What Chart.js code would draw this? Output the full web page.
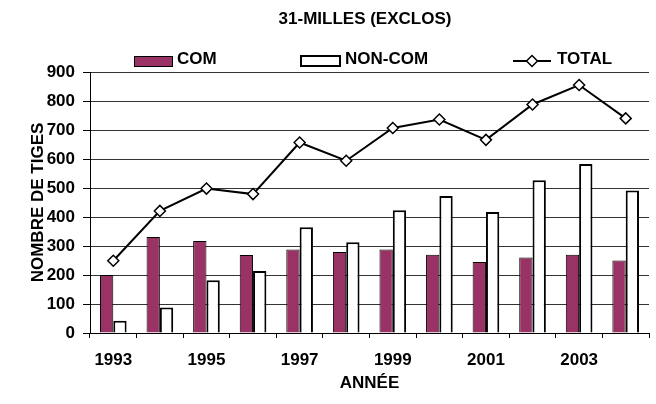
<!DOCTYPE html>
<html>
<head>
<meta charset="utf-8">
<script src="https://cdn.jsdelivr.net/npm/chart.js@4/dist/chart.umd.min.js"></script>
<style>
  html, body { margin: 0; padding: 0; background: #fff; }
  #wrap { width: 656px; height: 404px; position: relative; }
</style>
</head>
<body>
<div id="wrap"><canvas id="c" width="656" height="404"></canvas></div>
<script>
// ---- data ----
const years = ['1993','1994','1995','1996','1997','1998','1999','2000','2001','2002','2003','2004'];
const comValues = [200, 331, 317, 269, 288, 279, 288, 270, 245, 260, 270, 250];
const nonComValues = [42, 88, 182, 214, 365, 313, 423, 472, 417, 527, 583, 491];
const totalValues = [249, 421, 498, 479, 657, 594, 707, 736, 666, 788, 855, 740];
const yTicks = [0, 100, 200, 300, 400, 500, 600, 700, 800, 900];
const titleText = '31-MILLES (EXCLOS)';
const xTitle = 'ANNÉE';
const yTitle = 'NOMBRE DE TIGES';
const seriesNames = ['COM', 'NON-COM', 'TOTAL'];

const FONT = "'Liberation Sans', Arial, sans-serif";

const customDecor = {
  id: 'customDecor',
  afterDraw(chart) {
    const ctx = chart.ctx;
    const byLabel = (l) => chart.data.datasets.find(d => d.label === l);
    const com = byLabel(seriesNames[0]);
    const non = byLabel(seriesNames[1]);
    const tot = byLabel(seriesNames[2]);
    ctx.save();
    ctx.fillStyle = '#000';
    ctx.font = 'bold 17px ' + FONT;
    ctx.textBaseline = 'middle';
    // title
    ctx.textAlign = 'center';
    ctx.fillText(titleText, 365, 19);
    // legend
    ctx.textAlign = 'left';
    const ty = 59;
    // COM
    ctx.fillStyle = com.backgroundColor;
    ctx.fillRect(134.5, 56.5, 38, 10);
    ctx.strokeStyle = com.borderColor; ctx.lineWidth = 1;
    ctx.strokeRect(134.5, 56.5, 38, 10);
    ctx.fillStyle = '#000';
    ctx.fillText(com.label, 177, ty);
    // NON-COM
    ctx.fillStyle = non.backgroundColor;
    ctx.fillRect(301, 56, 39, 10);
    ctx.strokeStyle = non.borderColor; ctx.lineWidth = 2;
    ctx.strokeRect(301, 56, 39, 10);
    ctx.fillStyle = '#000';
    ctx.fillText(non.label, 345, ty);
    // TOTAL
    ctx.strokeStyle = tot.borderColor;
    ctx.lineWidth = 2;
    ctx.beginPath(); ctx.moveTo(513, 61); ctx.lineTo(551, 61); ctx.stroke();
    ctx.beginPath();
    ctx.moveTo(532, 55.5); ctx.lineTo(537.5, 61); ctx.lineTo(532, 66.5); ctx.lineTo(526.5, 61); ctx.closePath();
    ctx.fillStyle = '#fff'; ctx.fill();
    ctx.lineWidth = 1.5; ctx.stroke();
    ctx.fillStyle = '#000';
    ctx.fillText(tot.label, 557, ty);
    ctx.restore();
  }
};

new Chart(document.getElementById('c'), {
  type: 'bar',
  data: {
    labels: years,
    datasets: [
      {
        type: 'line', label: seriesNames[2], data: totalValues, order: 0,
        borderColor: '#000', borderWidth: 2, backgroundColor: '#fff',
        pointStyle: 'rectRot', pointRadius: 5.5, pointBorderWidth: 1.5,
        pointBackgroundColor: '#fff', pointBorderColor: '#000', tension: 0
      },
      {
        label: seriesNames[0], data: comValues, order: 1,
        backgroundColor: '#993366', borderColor: '#000', borderWidth: 1,
        barPercentage: 1, categoryPercentage: 0.572
      },
      {
        label: seriesNames[1], data: nonComValues, order: 1,
        backgroundColor: '#fff', borderColor: '#000', borderWidth: 2,
        barPercentage: 1, categoryPercentage: 0.572
      }
    ]
  },
  options: {
    responsive: false,
    animation: false,
    layout: { padding: { top: 72, left: 0, right: 0, bottom: 0 } },
    plugins: { legend: { display: false }, title: { display: false }, tooltip: { enabled: false } },
    scales: {
      x: {
        grid: { offset: true, drawOnChartArea: false, drawTicks: true, tickLength: 5, color: '#000', tickColor: '#000' },
        border: { display: true, color: '#000', width: 1 },
        ticks: {
          autoSkip: false, maxRotation: 0, minRotation: 0, padding: 12, color: '#000',
          font: { family: FONT, size: 17, weight: 'bold' },
          callback: (v, i) => (i % 2 === 0 ? years[i] : '')
        },
        title: { display: true, text: xTitle, color: '#000', padding: { top: 0, bottom: 10 },
                 font: { family: FONT, size: 17, weight: 'bold' } },
        afterFit: (s) => { s.height = 71; }
      },
      y: {
        min: 0, max: 900,
        afterBuildTicks: (s) => { s.ticks = yTicks.map(v => ({ value: v })); },
        grid: { color: '#333', tickColor: '#000', tickLength: 7, lineWidth: 1 },
        border: { display: true, color: '#000', width: 1 },
        ticks: { padding: 8, color: '#000', font: { family: FONT, size: 17, weight: 'bold' } },
        title: { display: true, text: yTitle, color: '#000', padding: { top: 28, bottom: 0 },
                 font: { family: FONT, size: 17, weight: 'bold' } },
        afterFit: (s) => { s.width = 90; }
      }
    }
  },
  plugins: [customDecor]
});
</script>
</body>
</html>
